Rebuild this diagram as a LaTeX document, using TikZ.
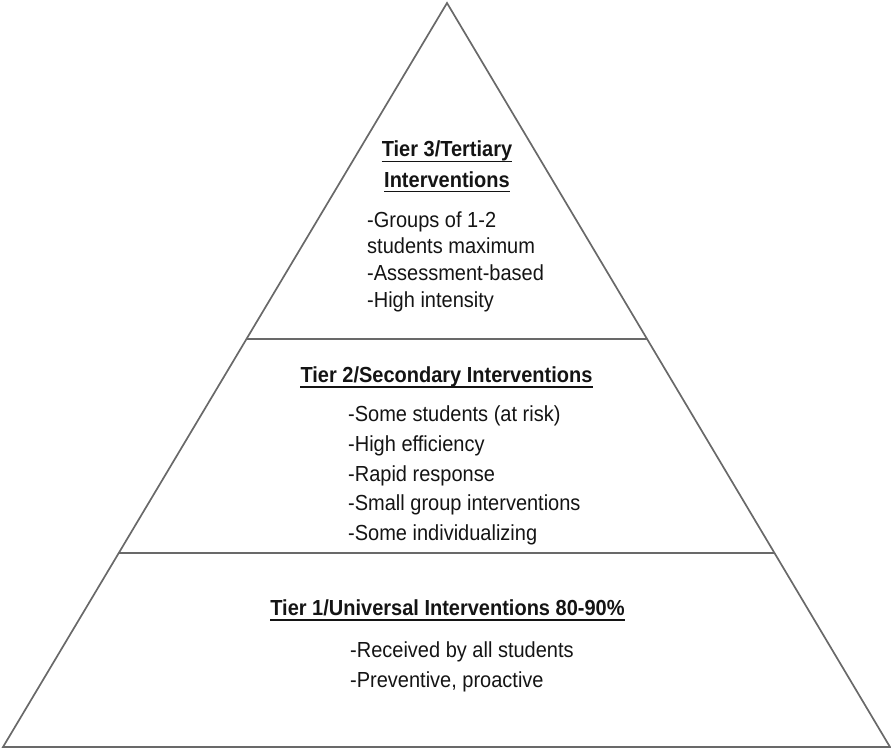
\documentclass[tikz,border=0pt]{standalone}
\usepackage{fontspec}
\setmainfont{Liberation Sans}
\usetikzlibrary{calc}
\definecolor{edgegray}{RGB}{105,105,105}
\definecolor{txt}{RGB}{20,20,20}
\newcommand{\vstretch}[1]{\scalebox{1}[1.09]{#1}}
\tikzset{
  tri/.style={draw=edgegray, line width=1.7pt, line join=miter},
  divider/.style={draw=edgegray, line width=1.5pt},
  head/.style={inner sep=0pt, anchor=base, text=txt, font=\fontsize{20}{24}\selectfont\bfseries},
  item/.style={inner sep=0pt, anchor=base west, text=txt, font=\fontsize{20}{24}\selectfont},
  uline/.style={draw=txt, line width=1.3pt}
}
\begin{document}
\begin{tikzpicture}[x=1pt,y=-1pt]
\useasboundingbox (0,0) rectangle (891,749);
\coordinate (apex) at (447,3);
\coordinate (bl) at (3,747);
\coordinate (br) at (890,747);
\draw[tri] (apex) -- (bl) -- (br) -- cycle;
\coordinate (d1l) at ($(bl)!{(747-339)/744}!(apex)$);
\coordinate (d1r) at ($(br)!{(747-339)/744}!(apex)$);
\coordinate (d2l) at ($(bl)!{(747-553)/744}!(apex)$);
\coordinate (d2r) at ($(br)!{(747-553)/744}!(apex)$);
\draw[divider] (d1l) -- (d1r);
\draw[divider] (d2l) -- (d2r);

% Tier 3
\node[head] (t3a) at (447,157) {\vstretch{Tier 3/Tertiary}};
\node[head] (t3b) at (447,187) {\vstretch{Interventions}};
\draw[uline] ([yshift=-4.5pt]t3a.base west) -- ([yshift=-4.5pt]t3a.base east);
\draw[uline] ([yshift=-4.5pt]t3b.base west) -- ([yshift=-4.5pt]t3b.base east);
\node[item] (t3i1) at (367,227) {\vstretch{-Groups of 1-2}};
\node[item] (t3i2) at (367,253.5) {\vstretch{students maximum}};
\node[item] (t3i3) at (367,280.5) {\vstretch{-Assessment-based}};
\node[item] (t3i4) at (367,307) {\vstretch{-High intensity}};

% Tier 2
\node[head] (t2) at (446.5,382.5) {\vstretch{Tier 2/Secondary Interventions}};
\draw[uline] ([yshift=-4.5pt]t2.base west) -- ([yshift=-4.5pt]t2.base east);
\node[item] (t2i1) at (348,421) {\vstretch{-Some students (at risk)}};
\node[item] (t2i2) at (348,451) {\vstretch{-High efficiency}};
\node[item] (t2i3) at (348,481) {\vstretch{-Rapid response}};
\node[item] (t2i4) at (348,510.5) {\vstretch{-Small group interventions}};
\node[item] (t2i5) at (348,540) {\vstretch{-Some individualizing}};

% Tier 1
\node[head] (t1) at (447.5,615.5) {\vstretch{Tier 1/Universal Interventions 80-90\%}};
\draw[uline] ([yshift=-4.5pt]t1.base west) -- ([yshift=-4.5pt]t1.base east);
\node[item] (t1i1) at (350,657.5) {\vstretch{-Received by all students}};
\node[item] (t1i2) at (350,687) {\vstretch{-Preventive, proactive}};
\end{tikzpicture}
\end{document}
